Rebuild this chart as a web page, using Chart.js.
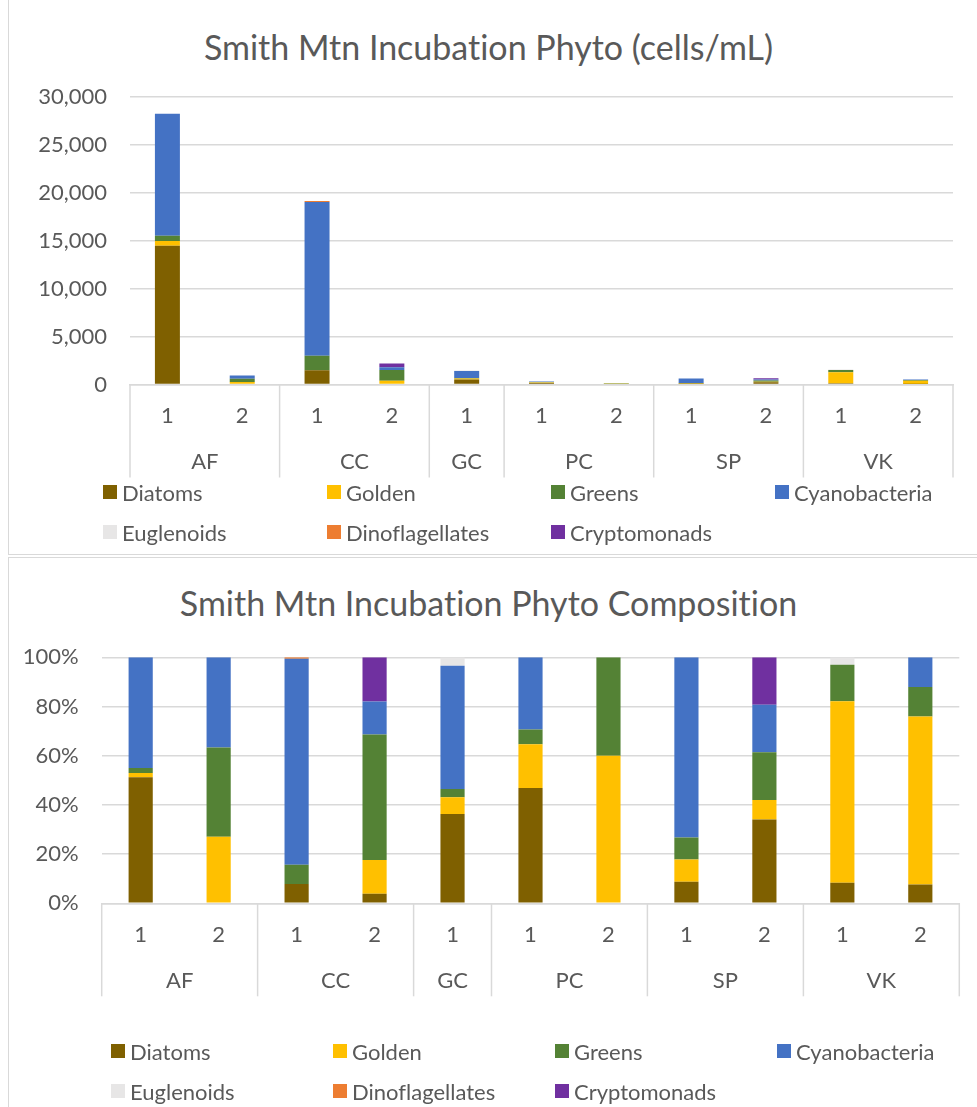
<!DOCTYPE html>
<html>
<head>
<meta charset="utf-8">
<script src="https://cdn.jsdelivr.net/npm/chart.js@4"></script>
<style>
  html, body { margin: 0; padding: 0; background: #fff; }
  body { width: 977px; height: 1107px; position: relative; overflow: hidden; font-family: Lato, sans-serif; font-variant-ligatures: none; }
  .panel { position: absolute; left: 8px; width: 990px; border: 1px solid #d9d9d9; box-sizing: border-box; }
  .box { position: absolute; left: 0; width: 977px; }
  .title { position: absolute; left: 0; width: 977px; text-align: center; color: #595959; font-size: 34px; line-height: 40px; }
  .legend-item { position: absolute; display: flex; align-items: center; color: #595959; font-size: 22px; white-space: nowrap; }
  .legend-item span.sw { width: 14px; height: 14px; margin-right: 5px; display: inline-block; }
</style>
</head>
<body>
<div class="panel" style="top:-2px;height:557px"></div>
<div class="panel" style="top:557px;height:560px"></div>

<div class="title" style="top:27px">Smith Mtn Incubation Phyto (cells/mL)</div>
<div class="title" style="top:583px">Smith Mtn Incubation Phyto Composition</div>

<div class="box" style="top:0;height:555px"><canvas id="chartCells"></canvas></div>
<div class="box" style="top:557px;height:550px"><canvas id="chartPct"></canvas></div>
<div id="legendTop"></div>
<div id="legendBottom"></div>

<script>
// Station / replicate for each bar
const sites = ['AF', 'AF', 'CC', 'CC', 'GC', 'PC', 'PC', 'SP', 'SP', 'VK', 'VK'];
const reps  = ['1', '2', '1', '2', '1', '1', '2', '1', '2', '1', '2'];

const groups = ['Diatoms', 'Golden', 'Greens', 'Cyanobacteria', 'Euglenoids', 'Dinoflagellates', 'Cryptomonads'];
const colors = ['#7F6000', '#FFC000', '#548235', '#4472C4', '#E7E6E6', '#ED7D31', '#7030A0'];

// cells/mL per group
const diatoms       = [14480,   0,  1500,   86, 530, 150,  0,  55, 225,  131,  40];
const golden        = [  500, 255,     0,  301,  99,  57, 60,  56,  52, 1151, 355];
const greens        = [  550, 342,  1500, 1122,  50,  19, 40,  56, 128,  231,  62];
const cyanobacteria = [12730, 345, 16050,  295, 731,  94,  0, 458, 128,    0,  63];
const euglenoids    = [    0,   0,     0,    0,  50,   0,  0,   0,   0,   47,   0];
const dinoflag      = [    0,   0,   110,    0,   0,   0,  0,   0,   0,    0,   0];
const cryptomonads  = [    0,   0,     0,  396,   0,   0,  0,   0, 127,    0,   0];

const cellTicks = [0, 5000, 10000, 15000, 20000, 25000, 30000];
const pctTicks = [0, 20, 40, 60, 80, 100];

const values = [diatoms, golden, greens, cyanobacteria, euglenoids, dinoflag, cryptomonads];

// share of each bar (100% stacked)
const totals = sites.map((s, i) => values.reduce((sum, arr) => sum + arr[i], 0));
const shares = values.map(arr => arr.map((v, i) => v / totals[i] * 100));

const grey = '#595959';
const lineGrey = '#d9d9d9';

// Station names and separators under the replicate labels
const groupAxis = {
  id: 'groupAxis',
  afterDraw(chart) {
    const x = chart.scales.x;
    const ctx = chart.ctx;
    const slot = x.width / sites.length;
    const bounds = [];
    let start = 0;
    for (let i = 1; i <= sites.length; i++) {
      if (i === sites.length || sites[i] !== sites[start]) {
        bounds.push({ name: sites[start], a: start, b: i - 1 });
        start = i;
      }
    }
    ctx.save();
    ctx.strokeStyle = lineGrey;
    ctx.lineWidth = 1.5;
    ctx.fillStyle = grey;
    ctx.font = '22px Lato';
    ctx.textAlign = 'center';
    ctx.textBaseline = 'middle';
    const edges = [];
    bounds.forEach(g => {
      const left = x.getPixelForValue(g.a) - slot / 2;
      const right = x.getPixelForValue(g.b) + slot / 2;
      edges.push(left, right);
      ctx.fillText(g.name, (left + right) / 2, x.top + 77.5);
    });
    [...new Set(edges.map(e => Math.round(e * 10) / 10))].forEach(e => {
      ctx.beginPath();
      ctx.moveTo(e, x.top);
      ctx.lineTo(e, x.top + 93);
      ctx.stroke();
    });
    ctx.restore();
  }
};

function makeDatasets(data, barPct) {
  return groups.map((g, k) => ({
    label: g,
    data: data[k],
    backgroundColor: colors[k],
    borderWidth: 0,
    barPercentage: barPct,
    categoryPercentage: 1
  }));
}

function makeChart(id, data, opts) {
  return new Chart(document.getElementById(id), {
    type: 'bar',
    data: { labels: reps, datasets: makeDatasets(data, opts.barPct) },
    plugins: [groupAxis],
    options: {
      responsive: true,
      maintainAspectRatio: false,
      animation: false,
      layout: { padding: { left: 0, right: opts.padRight, top: opts.padTop, bottom: 0 } },
      plugins: {
        legend: { display: false },
        tooltip: { enabled: false },
        title: { display: false }
      },
      scales: {
        x: {
          stacked: true,
          grid: { display: false, drawTicks: false },
          border: { color: lineGrey, width: 1.5 },
          ticks: { color: grey, font: { family: 'Lato', size: 22 }, padding: 18, maxRotation: 0 },
          afterFit: s => { s.height = opts.xHeight; }
        },
        y: {
          stacked: true,
          min: 0,
          max: opts.max,
          afterBuildTicks: s => { s.ticks = opts.ticks.map(v => ({ value: v })); },
          grid: { color: lineGrey, lineWidth: 1.5, drawTicks: false },
          border: { display: false },
          ticks: { color: grey, font: { family: 'Lato', size: 22 }, padding: 23, callback: opts.fmt },
          afterFit: s => { s.width = opts.yWidth; }
        }
      }
    }
  });
}

makeChart('chartCells', values, {
  padTop: 97,
  max: 30000, ticks: cellTicks,
  fmt: v => v.toLocaleString('en-US'),
  yWidth: 130, padRight: 24, xHeight: 170.5, barPct: 0.334
});

makeChart('chartPct', shares, {
  padTop: 100.3,
  max: 100, ticks: pctTicks,
  fmt: v => v + '%',
  yWidth: 101.7, padRight: 17.7, xHeight: 203.7, barPct: 0.31
});

// legends laid out in four columns, two rows
function buildLegend(id, left, step, rows) {
  const holder = document.getElementById(id);
  groups.forEach((g, k) => {
    const item = document.createElement('div');
    item.className = 'legend-item';
    item.style.left = (left + (k % 4) * step) + 'px';
    item.style.top = (rows[Math.floor(k / 4)] - 13) + 'px';
    item.style.height = '26px';
    item.innerHTML = '<span class="sw" style="background:' + colors[k] + '"></span>' + g;
    holder.appendChild(item);
  });
}
buildLegend('legendTop', 103, 224, [492, 532]);
buildLegend('legendBottom', 111, 222, [1051, 1091]);
</script>
</body>
</html>
